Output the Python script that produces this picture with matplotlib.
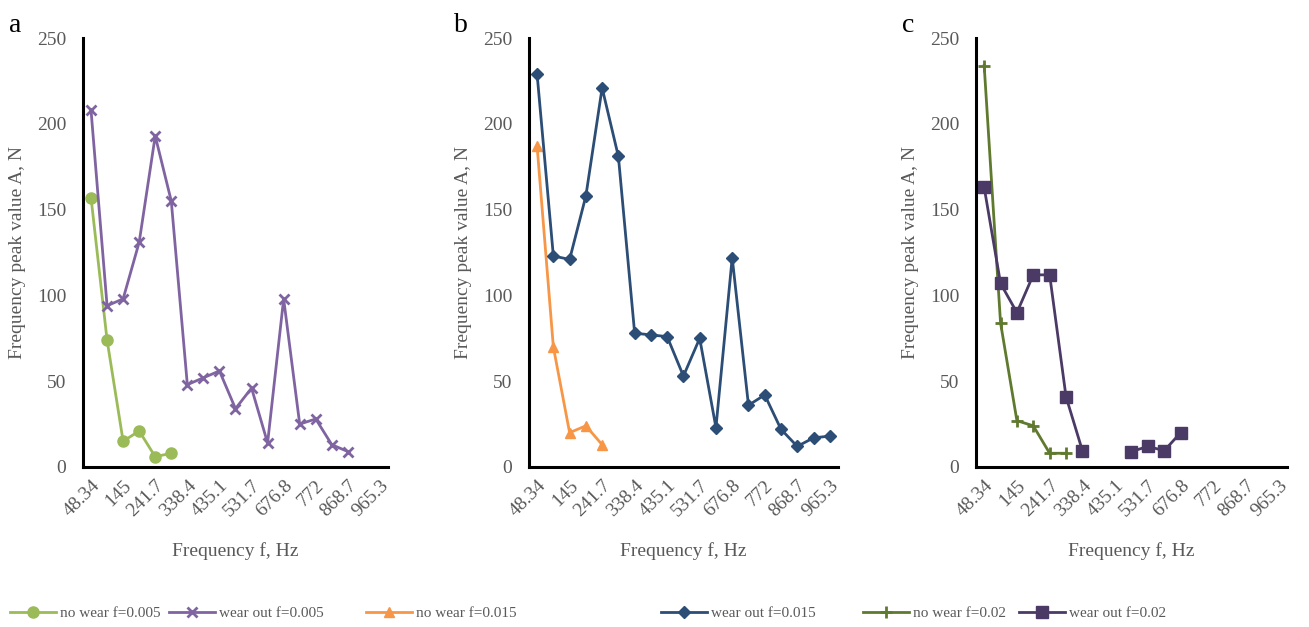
import numpy as np
import matplotlib
matplotlib.use("Agg")
import matplotlib.pyplot as plt

# category axis: 19 categories, every other one labelled
tick_labels = ["48.34", "145", "241.7", "338.4", "435.1",
               "531.7", "676.8", "772", "868.7", "965.3"]
n_cats = 19

# panel a, f=0.005
a_nowear = [157, 74, 15, 21, 6, 8]
a_wear = [208, 94, 98, 131, 193, 155, 48, 52, 56, 34, 46, 14, 98, 25, 28, 13, 9]
# panel b, f=0.015
b_nowear = [187, 70, 20, 24, 13]
b_wear = [229, 123, 121, 158, 221, 181, 78, 77, 76, 53, 75, 23, 122, 36, 42,
          22, 12, 17, 18]
# panel c, f=0.02 (gap in the wear out series)
c_nowear = [234, 84, 27, 24, 8, 8]
c_wear = [163, 107, 90, 112, 112, 41, 9.5, np.nan, np.nan, 9, 12, 9.5, 20]

plt.rcParams['font.family'] = ['Liberation Serif', 'DejaVu Serif']
gray = '#595959'

fig = plt.figure(figsize=(13.09, 6.27), dpi=100)

# letter, axes left, axes width, legend start (px), legend column gap
panels = [
    ("a", 0.0634, 0.233, 10, 0.6,
     (a_nowear, "no wear f=0.005", '#9BBB59', 'o', 8),
     (a_wear, "wear out f=0.005", '#8064A2', 'x', 7)),
    ("b", 0.4041, 0.236, 366, 9.5,
     (b_nowear, "no wear f=0.015", '#F79646', '^', 7),
     (b_wear, "wear out f=0.015", '#2C4D75', 'D', 6)),
    ("c", 0.7456, 0.2376, 863, 0.9,
     (c_nowear, "no wear f=0.02", '#5F7A2E', '+', 8),
     (c_wear, "wear out f=0.02", '#4B3A66', 's', 8.5)),
]

for letter, left, width, leg_x, colsp, s1, s2 in panels:
    ax = fig.add_axes([left, 0.2552, width, 0.684])
    for vals, label, color, marker, ms in (s1, s2):
        x = np.arange(len(vals))
        ax.plot(x, vals, color=color, lw=2, marker=marker, ms=ms,
                mew=2 if marker in ('x', '+') else 1, label=label)

    ax.set_xlim(-0.5, n_cats - 0.5)
    ax.set_ylim(0, 250)
    ax.set_yticks(np.arange(0, 251, 50))
    ax.set_xticks(np.arange(0, n_cats, 2))
    ax.set_xticklabels(tick_labels, rotation=45, ha='right', va='top',
                       rotation_mode='anchor')
    ax.tick_params(length=0, labelsize=14, labelcolor=gray)
    ax.tick_params(axis='y', pad=12)
    ax.tick_params(axis='x', pad=7)
    for side in ('top', 'right'):
        ax.spines[side].set_visible(False)
    for side in ('left', 'bottom'):
        ax.spines[side].set_linewidth(2.2)
        ax.spines[side].set_color('black')

    ax.set_xlabel("Frequency f, Hz", fontsize=14, color=gray, labelpad=16)
    ax.set_ylabel("Frequency peak value A, N", fontsize=14, color=gray,
                  labelpad=8)

    # panel letter
    fig.text(left - 0.052, 0.96, letter, fontsize=20, color='black',
             ha='center', va='center')

    leg = fig.legend(handles=ax.get_lines(), loc='center left',
                     bbox_to_anchor=(leg_x / 1309, 0.022), ncol=2,
                     frameon=False, fontsize=11, handlelength=3.0,
                     handletextpad=0.25, columnspacing=colsp,
                     borderpad=0, borderaxespad=0)
    for t in leg.get_texts():
        t.set_color(gray)

fig.savefig("out.png", dpi=100)
